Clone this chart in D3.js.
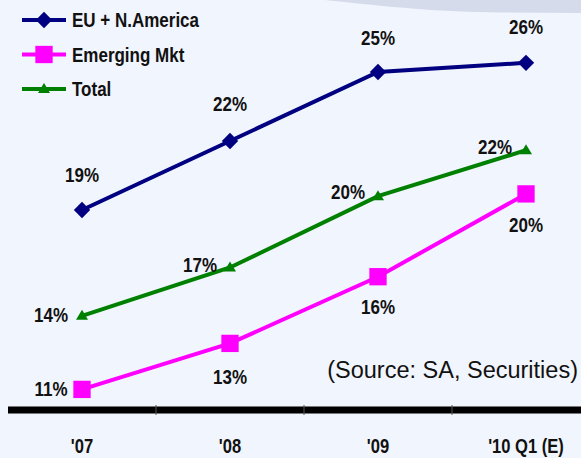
<!DOCTYPE html>
<html>
<head>
<meta charset="utf-8">
<script src="https://cdn.jsdelivr.net/npm/d3@7"></script>
<style>
  body { margin: 0; background: #f1f5fd; }
  svg { display: block; }
  .lbl { font-family: 'Liberation Sans', Arial, sans-serif; font-weight: bold; font-size: 20px; fill: #111; }
</style>
</head>
<body>
<div class="container"></div>
<script>
let categories = ["'07", "'08", "'09", "'10 Q1 (E)"];

let euValues = [19, 22, 25, 25.4];
let emValues = [11.2, 13.2, 16.1, 19.7];
let totalValues = [14.4, 16.5, 19.6, 21.6];

let euLabels = ['19%', '22%', '25%', '26%'];
let emLabels = ['11%', '13%', '16%', '20%'];
let totalLabels = ['14%', '17%', '20%', '22%'];

let seriesNames = ['EU + N.America', 'Emerging Mkt', 'Total'];

let width = 581;
let height = 458;
let squeeze = 0.85; // narrow look of the original font

let svg = d3
  .select('.container')
  .append('svg')
  .attr('width', width)
  .attr('height', height);

svg.append('rect').attr('width', width).attr('height', height).attr('fill', '#f1f5fd');

// grey swoosh at the top right
svg
  .append('path')
  .attr('d', 'M325,0 C390,7 440,12 500,12.5 L581,13 L581,0 Z')
  .attr('fill', '#d5dbeb');

let x = d3.scaleBand().domain(categories).range([8, 600]);
let cx = (c) => x(c) + x.bandwidth() / 2;

let y = d3.scaleLinear().domain([10, 26]).range([417, 49]);

// narrow text helper
let narrow = (px, py) => 'translate(' + px + ',' + py + ') scale(' + squeeze + ',1)';

// axis
let axisY = 410;
svg
  .append('rect')
  .attr('x', 8)
  .attr('y', axisY - 4)
  .attr('width', width - 8)
  .attr('height', 8)
  .attr('fill', '#777');
svg
  .append('rect')
  .attr('x', 8)
  .attr('y', axisY - 3)
  .attr('width', width - 8)
  .attr('height', 6)
  .attr('fill', '#000');
svg
  .append('g')
  .selectAll('line')
  .data(categories.slice(1))
  .enter()
  .append('line')
  .attr('x1', (d) => x(d))
  .attr('x2', (d) => x(d))
  .attr('y1', axisY - 5)
  .attr('y2', axisY + 5)
  .attr('stroke', '#555')
  .attr('stroke-width', 1);

svg
  .append('g')
  .selectAll('text')
  .data(categories)
  .enter()
  .append('text')
  .attr('class', 'lbl')
  .style('font-size', '19.5px')
  .attr('transform', (d) => narrow(cx(d), 453))
  .attr('text-anchor', 'middle')
  .text((d) => d);

let series = [
  { name: seriesNames[0], values: euValues, labels: euLabels, color: '#000080', marker: 'diamond' },
  { name: seriesNames[1], values: emValues, labels: emLabels, color: '#ff00ff', marker: 'square' },
  { name: seriesNames[2], values: totalValues, labels: totalLabels, color: '#008000', marker: 'triangle' },
];

let markerPath = function (type) {
  if (type === 'diamond') return d3.symbol().type(d3.symbolDiamond2).size(170)();
  if (type === 'square') return d3.symbol().type(d3.symbolSquare).size(300)();
  return 'M0,-6 L6,4 L-6,4 Z';
};

let line = d3
  .line()
  .x((d, i) => cx(categories[i]))
  .y((d) => y(d));

// draw green first, then pink, then blue on top
[series[2], series[1], series[0]].forEach((s) => {
  svg
    .append('path')
    .datum(s.values)
    .attr('d', line)
    .attr('fill', 'none')
    .attr('stroke', s.color)
    .attr('stroke-width', 4);
  svg
    .append('g')
    .selectAll('path')
    .data(s.values)
    .enter()
    .append('path')
    .attr('d', markerPath(s.marker))
    .attr('transform', (d, i) => 'translate(' + cx(categories[i]) + ',' + y(d) + ')')
    .attr('fill', s.color);
});

// data labels: offsets relative to the point
let labelOffsets = [
  [[0, -28], [0, -30], [0, -27], [0, -29]],
  [[-31, 7], [0, 41], [0, 37], [0, 38]],
  [[-31, 6], [-30, 4], [-30, 3], [-31, 4]],
];

series.forEach((s, si) => {
  svg
    .append('g')
    .selectAll('text')
    .data(s.values)
    .enter()
    .append('text')
    .attr('class', 'lbl')
    .attr('transform', (d, i) =>
      narrow(cx(categories[i]) + labelOffsets[si][i][0], y(d) + labelOffsets[si][i][1])
    )
    .attr('text-anchor', 'middle')
    .text((d, i) => s.labels[i]);
});

// legend
let legend = svg.append('g').attr('transform', 'translate(22,0)');
let legendRows = legend
  .selectAll('g')
  .data(series)
  .enter()
  .append('g')
  .attr('transform', (d, i) => 'translate(0,' + (20 + i * 34.5) + ')');
legendRows
  .append('line')
  .attr('x1', 0)
  .attr('x2', 44)
  .attr('stroke', (d) => d.color)
  .attr('stroke-width', 4);
legendRows
  .append('path')
  .attr('d', (d) => markerPath(d.marker))
  .attr('transform', 'translate(22,0)')
  .attr('fill', (d) => d.color);
legendRows
  .append('text')
  .attr('class', 'lbl')
  .attr('transform', narrow(50, 7))
  .text((d) => d.name);

svg
  .append('text')
  .attr('x', 578)
  .attr('y', 378)
  .attr('text-anchor', 'end')
  .style('font-family', 'Liberation Sans, Arial, sans-serif')
  .style('font-size', '23.5px')
  .style('fill', '#111')
  .text('(Source: SA, Securities)');
</script>
</body>
</html>
